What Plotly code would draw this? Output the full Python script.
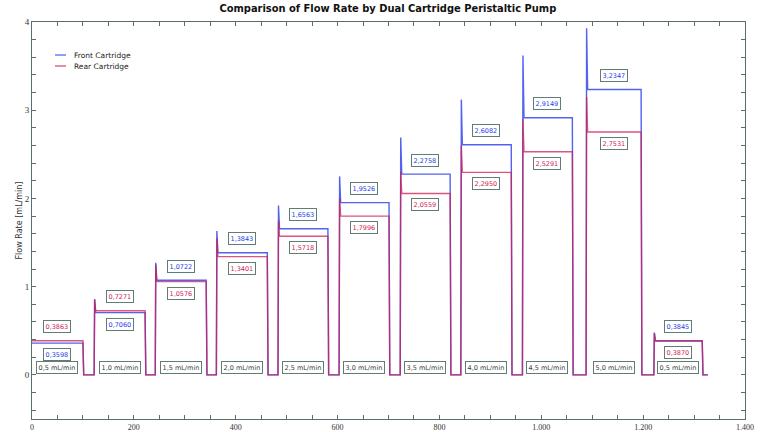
import plotly.graph_objects as go

# ---- data ----
step_on = [0, 122, 242, 362, 483, 603, 723, 842, 963, 1088, 1221]
step_off = [100, 222, 342, 462, 581, 701, 821, 941, 1061, 1196, 1316]
front_mean = [0.3598, 0.7060, 1.0722, 1.3843, 1.6563, 1.9526, 2.2758, 2.6082, 2.9149, 3.2347, 0.3845]
rear_mean = [0.3863, 0.7271, 1.0576, 1.3401, 1.5718, 1.7996, 2.0559, 2.2950, 2.5291, 2.7531, 0.3870]
front_peak = [0.38, 0.86, 1.27, 1.63, 1.92, 2.25, 2.69, 3.12, 3.62, 3.93, 0.48]
rear_peak = [0.40, 0.85, 1.25, 1.55, 1.75, 2.00, 2.30, 2.60, 2.90, 3.15, 0.47]
upper_label = ["R", "R", "F", "F", "F", "F", "F", "F", "F", "F", "F"]
flow_labels = ["0,5 mL/min", "1,0 mL/min", "1,5 mL/min", "2,0 mL/min", "2,5 mL/min",
               "3,0 mL/min", "3,5 mL/min", "4,0 mL/min", "4,5 mL/min", "5,0 mL/min", "0,5 mL/min"]
run_end = 1327
x_tick_vals = [0, 200, 400, 600, 800, 1000, 1200, 1400]
x_tick_text = ["0", "200", "400", "600", "800", "1.000", "1.200", "1.400"]
series_names = ["Front Cartridge", "Rear Cartridge"]

BLUE = "rgb(40,60,235)"
RED = "rgb(205,30,85)"
BOX = "rgb(95,125,115)"
AX = "rgb(90,110,110)"

# plot area in pixels (for paper-coordinate legend placement)
PL, PR, PT, PB = 32, 745, 22, 419


def px(xp):
    return (xp - PL) / (PR - PL)


def py(yp):
    return (PB - yp) / (PB - PT)


def build(means, peaks):
    xs, ys = [], []
    for i, (on, off) in enumerate(zip(step_on, step_off)):
        if i == 0:
            xs += [on]
            ys += [means[i]]
        else:
            xs += [on, on + 1, on + 3]
            ys += [0, peaks[i], means[i]]
        xs += [off, off + 1.5]
        ys += [means[i], 0]
    xs.append(run_end)
    ys.append(0)
    return xs, ys


fx, fy = build(front_mean, front_peak)
rx, ry = build(rear_mean, rear_peak)

fig = go.Figure()
fig.add_trace(go.Scatter(x=fx, y=fy, mode="lines", name=series_names[0], showlegend=False,
                         line=dict(color=BLUE, width=1.4), opacity=0.8))
fig.add_trace(go.Scatter(x=rx, y=ry, mode="lines", name=series_names[1], showlegend=False,
                         line=dict(color=RED, width=1.4), opacity=0.75))

ann = []
for i in range(len(step_on)):
    cx = (step_on[i] + step_off[i]) / 2
    f, r = front_mean[i], rear_mean[i]
    if upper_label[i] == "F":
        hi, hc, lo, lc = f, BLUE, r, RED
    else:
        hi, hc, lo, lc = r, RED, f, BLUE
    top = max(f, r)
    bot = min(f, r)
    for v, c, yy in [(hi, hc, top + 0.16), (lo, lc, bot - 0.13)]:
        ann.append(dict(x=cx, y=yy, xref="x", yref="y", showarrow=False,
                        text=f"{v:.4f}".replace(".", ","),
                        font=dict(family="DejaVu Sans", size=6.5, color=c),
                        bgcolor="white", bordercolor=BOX, borderwidth=1, borderpad=1.5))
    ann.append(dict(x=cx, y=0.08, xref="x", yref="y", showarrow=False, text=flow_labels[i],
                    font=dict(family="DejaVu Sans", size=6.5, color="rgb(60,60,60)"),
                    bgcolor="white", bordercolor=BOX, borderwidth=1, borderpad=1.5))

# legend drawn manually (short line samples like the reference)
shapes = []
for k, (name, col) in enumerate(zip(series_names, [BLUE, RED])):
    yp = 55 + 11 * k
    shapes.append(dict(type="line", xref="paper", yref="paper", x0=px(55), x1=px(66),
                       y0=py(yp), y1=py(yp), line=dict(color=col, width=1)))
    ann.append(dict(x=px(72), y=py(yp), xref="paper", yref="paper", xanchor="left",
                    yanchor="middle", showarrow=False, text=name,
                    font=dict(family="DejaVu Sans", size=7.5, color="#222")))

axis_common = dict(showline=True, linecolor=AX, linewidth=1, mirror="ticks",
                   ticks="inside", ticklen=4, tickcolor=AX, showgrid=False,
                   zeroline=False, automargin=False)

fig.update_layout(
    width=768, height=432,
    margin=dict(l=PL, r=768 - PR, t=PT, b=432 - PB),
    paper_bgcolor="white", plot_bgcolor="white",
    showlegend=False,
    title=dict(text="<b>Comparison of Flow Rate by Dual Cartridge Peristaltic Pump</b>",
               x=0.505, xanchor="center", y=0.982, yanchor="middle", yref="container",
               font=dict(family="DejaVu Sans Condensed", size=11, color="#111")),
    xaxis=dict(range=[0, 1400], tickvals=x_tick_vals, ticktext=x_tick_text,
               minor=dict(dtick=50, ticks="inside", ticklen=4, tickcolor=AX),
               tickfont=dict(family="Liberation Serif", size=8, color="#333"),
               **axis_common),
    yaxis=dict(range=[-0.5, 4], tickvals=[0, 1, 2, 3, 4],
               minor=dict(dtick=0.2, ticks="inside", ticklen=4, tickcolor=AX),
               tickfont=dict(family="Liberation Serif", size=9, color="#333"),
               title=dict(text="Flow Rate [mL/min]", standoff=0,
                          font=dict(family="DejaVu Sans", size=8, color="#333")),
               **axis_common),
    annotations=ann,
    shapes=shapes,
)

fig.write_html("out.html")
